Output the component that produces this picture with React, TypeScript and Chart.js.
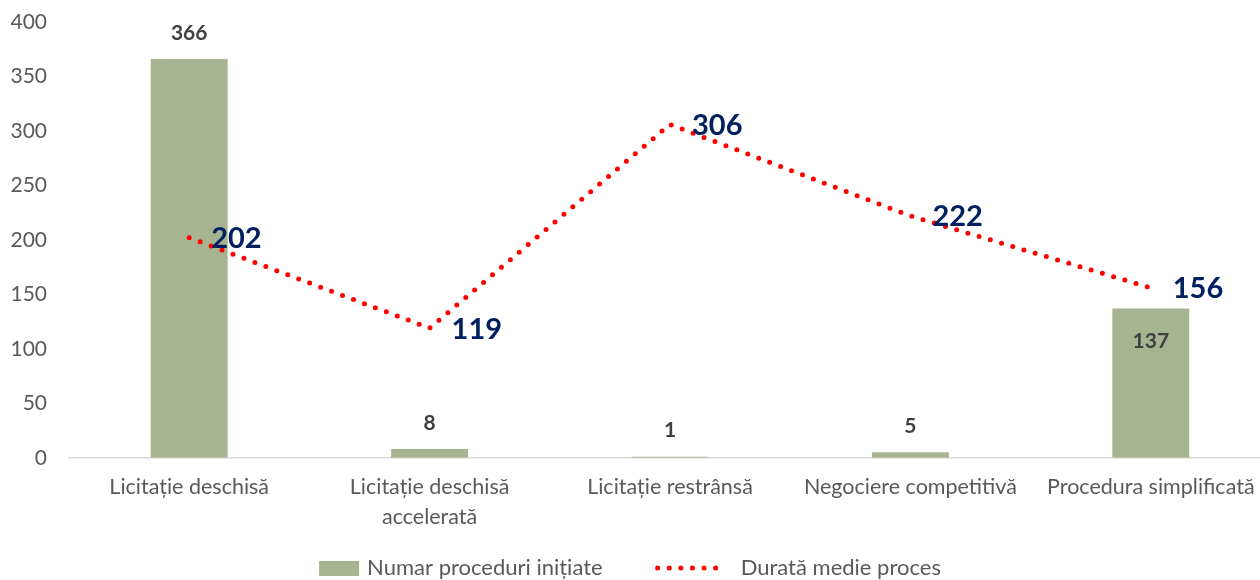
import React, { useEffect, useRef } from "react";
import { Chart, registerables } from "chart.js";

Chart.register(...registerables);

const categories: (string | string[])[] = [
  "Licitație deschisă",
  ["Licitație deschisă", "accelerată"],
  "Licitație restrânsă",
  "Negociere competitivă",
  "Procedura simplificată",
];
const numarProceduri = [366, 8, 1, 5, 137];
const durataMedie = [202, 119, 306, 222, 156];
const barLabelInside = [false, false, false, false, true];
const yTicks = [0, 50, 100, 150, 200, 250, 300, 350, 400];

const seriesNames = ["Numar proceduri inițiate", "Durată medie proces"];

const FONT = "Lato, 'Open Sans', sans-serif";
const BAR_COLOR = "#A6B491";
const LINE_COLOR = "#FF0000";
const AXIS_TEXT = "#595959";
const VIEW_W = 1260;
const CANVAS_W = 1271;

const labelsPlugin = {
  id: "customLabels",
  afterDatasetsDraw(chart: any) {
    const ctx = chart.ctx;
    ctx.save();
    const barMeta = chart.getDatasetMeta(0);
    ctx.font = `bold 21px ${FONT}`;
    ctx.fillStyle = "#404040";
    ctx.textAlign = "center";
    ctx.textBaseline = "middle";
    barMeta.data.forEach((el: any, i: number) => {
      const v = numarProceduri[i];
      const y = barLabelInside[i] ? el.y + 33 : el.y - 26;
      ctx.fillText(String(v), el.x, y);
    });
    const lineMeta = chart.getDatasetMeta(1);
    ctx.font = `bold 29px ${FONT}`;
    ctx.fillStyle = "#002060";
    ctx.textAlign = "left";
    lineMeta.data.forEach((el: any, i: number) => {
      ctx.fillText(String(durataMedie[i]), el.x + 22, el.y + 1);
    });
    ctx.restore();
  },
  afterDraw(chart: any) {
    const ctx = chart.ctx;
    ctx.save();
    ctx.font = `22px ${FONT}`;
    ctx.textBaseline = "middle";
    ctx.textAlign = "left";
    const w1 = ctx.measureText(seriesNames[0]).width;
    const w2 = ctx.measureText(seriesNames[1]).width;
    const boxW = 40, gap1 = 8, gapMid = 53, dotsW = 72, gap2 = 13;
    const total = boxW + gap1 + w1 + gapMid + dotsW + gap2 + w2;
    let x = (VIEW_W - total) / 2;
    const y = 568;
    ctx.fillStyle = BAR_COLOR;
    ctx.fillRect(x, y - 7, boxW, 15);
    x += boxW + gap1;
    ctx.fillStyle = AXIS_TEXT;
    ctx.fillText(seriesNames[0], x, y);
    x += w1 + gapMid;
    ctx.strokeStyle = LINE_COLOR;
    ctx.lineWidth = 5;
    ctx.lineCap = "round";
    ctx.setLineDash([0, 11.6]);
    ctx.beginPath();
    ctx.moveTo(x + 2, y);
    ctx.lineTo(x + dotsW - 1, y);
    ctx.stroke();
    ctx.setLineDash([]);
    x += dotsW + gap2;
    ctx.fillStyle = AXIS_TEXT;
    ctx.fillText(seriesNames[1], x, y);
    ctx.restore();
  },
};

export default function App() {
  const ref = useRef<HTMLCanvasElement | null>(null);
  useEffect(() => {
    if (!ref.current) return;
    const chart = new Chart(ref.current, {
      type: "bar",
      data: {
        labels: categories as any,
        datasets: [
          {
            type: "bar",
            label: seriesNames[0],
            data: numarProceduri,
            backgroundColor: BAR_COLOR,
            barPercentage: 0.64,
            categoryPercentage: 0.5,
            order: 2,
          },
          {
            type: "line",
            label: seriesNames[1],
            data: durataMedie,
            borderColor: LINE_COLOR,
            borderWidth: 5,
            borderDash: [0, 11.7],
            borderCapStyle: "round",
            pointRadius: 0,
            tension: 0,
            fill: false,
            order: 1,
          } as any,
        ],
      },
      options: {
        responsive: false,
        animation: false,
        layout: { padding: { top: 22, right: 0, left: 0, bottom: 34 } },
        plugins: {
          legend: { display: false },
          tooltip: { enabled: false },
        },
        scales: {
          x: {
            grid: { display: false, drawTicks: false },
            border: { display: true, color: "#D9D9D9", width: 1.5 },
            afterFit: (scale: any) => {
              scale.paddingLeft = 0;
              scale.paddingRight = 0;
            },
            ticks: {
              color: AXIS_TEXT,
              font: { family: FONT, size: 21.5, lineHeight: 1.4 },
              padding: 14,
              maxRotation: 0,
              autoSkip: false,
            },
          },
          y: {
            min: 0,
            max: 400,
            afterBuildTicks: (axis: any) => {
              axis.ticks = yTicks.map((v) => ({ value: v }));
            },
            afterFit: (scale: any) => {
              scale.paddingTop = 0;
              scale.paddingBottom = 0;
              scale.width = 69;
            },
            grid: { display: false, drawTicks: false },
            border: { display: false },
            ticks: {
              color: AXIS_TEXT,
              font: { family: FONT, size: 21 },
              padding: 22,
            },
          },
        },
      },
      plugins: [labelsPlugin],
    });
    return () => chart.destroy();
  }, []);
  return (
    <div style={{ position: "absolute", left: 0, top: 0, width: VIEW_W, height: 580, overflow: "hidden", background: "#fff" }}>
      <canvas ref={ref} width={CANVAS_W} height={580} style={{ display: "block" }} />
    </div>
  );
}
